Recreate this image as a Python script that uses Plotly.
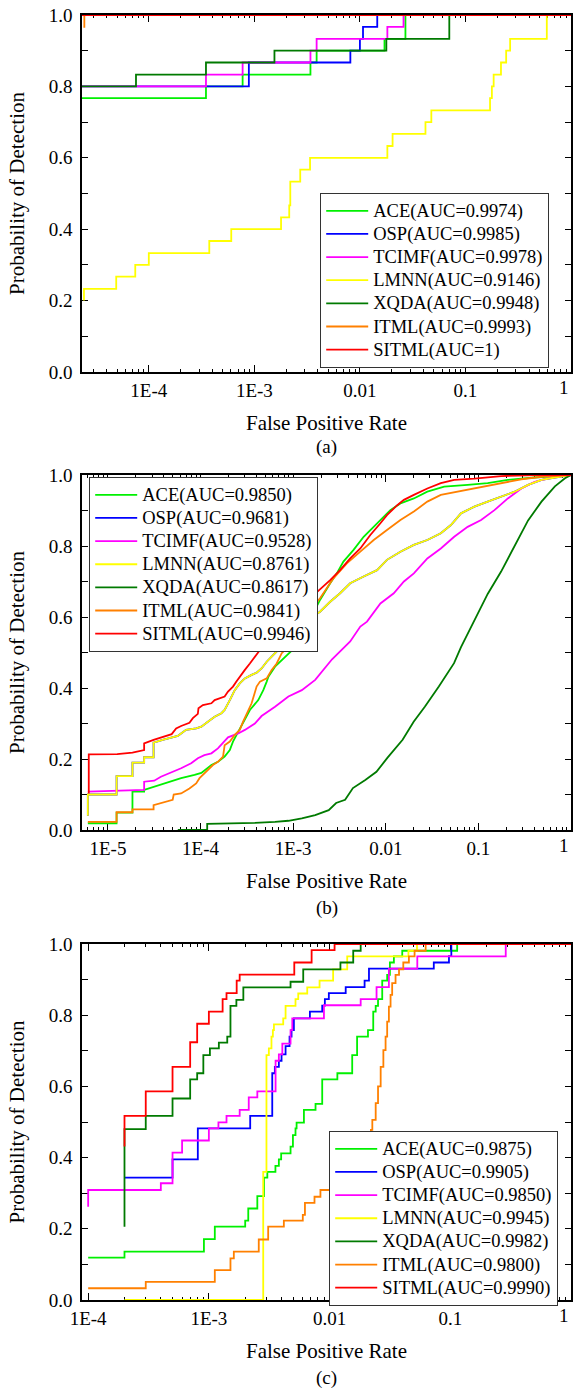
import plotly.graph_objects as go

# ---------------- data: panel (a) ----------------
names_a = ["ACE(AUC=0.9974)", "OSP(AUC=0.9985)", "TCIMF(AUC=0.9978)", "LMNN(AUC=0.9146)",
           "XQDA(AUC=0.9948)", "ITML(AUC=0.9993)", "SITML(AUC=1)"]
ace_a_fpr = [2.2e-5, 3.48e-4, 7.74e-4, 3.40e-3, 3.89e-3, 1.71e-2, 2.7e-2, 1.0]
ace_a_tpr = [0.767, 0.800, 0.833, 0.867, 0.900, 0.933, 1.0, 1.0]
osp_a_fpr = [2.2e-5, 8.87e-4, 8.12e-3, 1.0e-2, 1.07e-2, 1.46e-2, 1.0]
osp_a_tpr = [0.800, 0.867, 0.900, 0.933, 0.967, 1.0, 1.0]
tcimf_a_fpr = [2.2e-5, 3.48e-4, 7.74e-4, 3.40e-3, 3.89e-3, 1.82e-2, 2.59e-2, 1.0]
tcimf_a_tpr = [0.800, 0.833, 0.867, 0.900, 0.933, 0.967, 1.0, 1.0]
lmnn_a_fpr = [2.43e-5, 2.43e-5, 4.91e-5, 7.44e-5, 1.0e-4, 3.74e-4, 6.04e-4, 1.79e-3, 2.14e-3,
              2.19e-3, 2.72e-3, 3.37e-3, 1.82e-2, 2.04e-2, 4.18e-2, 4.75e-2, 0.171, 0.178,
              0.185, 0.217, 0.243, 0.265, 0.59, 1.0]
lmnn_a_tpr = [0.200, 0.233, 0.267, 0.300, 0.333, 0.367, 0.400, 0.433, 0.467, 0.533, 0.567,
              0.600, 0.633, 0.667, 0.700, 0.733, 0.767, 0.800, 0.833, 0.867, 0.900, 0.933,
              1.0, 1.0]
xqda_a_fpr = [2.2e-5, 7.56e-5, 3.48e-4, 1.55e-3, 1.78e-2, 7.03e-2, 1.0]
xqda_a_tpr = [0.800, 0.833, 0.867, 0.900, 0.933, 1.0, 1.0]
itml_a_fpr = [2.4e-5, 2.45e-5, 1.0]
itml_a_tpr = [0.967, 1.0, 1.0]
sitml_a_fpr = [2.2e-5, 1.0]
sitml_a_tpr = [1.0, 1.0]

# ---------------- data: panel (b) ----------------
names_b = ["ACE(AUC=0.9850)", "OSP(AUC=0.9681)", "TCIMF(AUC=0.9528)", "LMNN(AUC=0.8761)",
           "XQDA(AUC=0.8617)", "ITML(AUC=0.9841)", "SITML(AUC=0.9946)"]
ace_b_fpr = [6.07e-6, 1.24e-5, 1.24e-5, 1.84e-5, 1.84e-5, 2.46e-5, 2.46e-5, 3.73e-5, 4.80e-5,
             6.17e-5, 8.61e-5, 1.02e-4, 1.31e-4, 1.54e-4, 1.82e-4, 2.07e-4, 2.24e-4, 2.55e-4,
             3.01e-4, 3.41e-4, 4.20e-4, 4.76e-4, 5.18e-4, 5.40e-4, 6.37e-4, 7.53e-4, 8.89e-4,
             9.84e-4, 1.26e-3, 1.58e-3, 1.95e-3, 2.51e-3, 2.96e-3, 3.49e-3, 4.49e-3, 5.77e-3,
             6.81e-3, 8.75e-3, 1.12e-2, 1.44e-2, 2.01e-2, 2.81e-2, 4.27e-2, 7.66e-2, 0.126,
             0.208, 0.406, 1.0]
ace_b_tpr = [0.019, 0.019, 0.049, 0.049, 0.108, 0.108, 0.113, 0.127, 0.136, 0.146, 0.155,
             0.161, 0.183, 0.192, 0.207, 0.225, 0.249, 0.277, 0.315, 0.338, 0.366, 0.394,
             0.418, 0.432, 0.460, 0.479, 0.498, 0.507, 0.550, 0.600, 0.648, 0.695, 0.723,
             0.756, 0.789, 0.826, 0.845, 0.873, 0.901, 0.920, 0.934, 0.953, 0.967, 0.972,
             0.977, 0.986, 0.993, 1.0]
tcimf_b_fpr = [6.07e-6, 2.46e-5, 2.46e-5, 3.16e-5, 3.73e-5, 4.42e-5, 5.21e-5, 6.17e-5, 7.92e-5,
               9.35e-5, 1.10e-4, 1.31e-4, 1.54e-4, 1.82e-4, 1.98e-4, 2.55e-4, 3.01e-4, 3.86e-4,
               4.56e-4, 6.37e-4, 8.89e-4, 1.24e-3, 1.73e-3, 2.63e-3, 3.35e-3, 4.13e-3, 5.31e-3,
               6.27e-3, 8.75e-3, 1.22e-2, 1.57e-2, 2.01e-2, 2.81e-2, 3.93e-2, 5.48e-2, 7.66e-2,
               0.107, 0.149, 0.208, 0.291, 0.406, 0.670, 1.0]
tcimf_b_tpr = [0.108, 0.113, 0.136, 0.139, 0.150, 0.158, 0.164, 0.174, 0.188, 0.202, 0.211,
               0.216, 0.230, 0.249, 0.261, 0.272, 0.282, 0.300, 0.321, 0.347, 0.376, 0.394,
               0.423, 0.481, 0.507, 0.531, 0.573, 0.587, 0.638, 0.667, 0.700, 0.723, 0.765,
               0.793, 0.826, 0.854, 0.873, 0.901, 0.934, 0.962, 0.981, 0.995, 1.0]
lmnn_b_fpr = [6.07e-6, 6.07e-6, 1.24e-5, 1.24e-5, 1.84e-5, 1.84e-5, 2.46e-5, 2.46e-5, 3.11e-5,
              3.11e-5, 3.90e-5, 4.80e-5, 5.68e-5, 6.17e-5, 6.98e-5, 8.97e-5, 1.02e-4, 1.20e-4,
              1.42e-4, 1.68e-4, 1.82e-4, 2.07e-4, 2.34e-4, 2.65e-4, 3.01e-4, 3.56e-4, 4.03e-4,
              4.56e-4, 5.18e-4, 6.11e-4, 6.93e-4, 1.0e-3, 1.5e-3, 1.95e-3, 2.51e-3, 3.21e-3,
              4.13e-3, 5.77e-3, 8.05e-3, 1.03e-2, 1.44e-2, 2.01e-2, 2.81e-2, 3.93e-2, 5.05e-2,
              6.49e-2, 9.06e-2, 0.126, 0.176, 0.246, 0.344, 0.480, 0.670, 1.0]
lmnn_b_tpr = [0.040, 0.100, 0.100, 0.152, 0.152, 0.190, 0.190, 0.205, 0.205, 0.246, 0.254,
              0.261, 0.265, 0.272, 0.282, 0.286, 0.291, 0.305, 0.319, 0.329, 0.338, 0.366,
              0.394, 0.413, 0.427, 0.437, 0.443, 0.455, 0.474, 0.493, 0.507, 0.550, 0.595,
              0.615, 0.643, 0.667, 0.695, 0.714, 0.732, 0.761, 0.784, 0.803, 0.817, 0.836,
              0.859, 0.892, 0.911, 0.925, 0.939, 0.953, 0.972, 0.986, 0.993, 1.0]
osp_b_fpr = lmnn_b_fpr
osp_b_tpr = lmnn_b_tpr
xqda_b_fpr = [5.68e-5, 1.18e-4, 1.18e-4, 2.15e-4, 3.86e-4, 6.37e-4, 8.89e-4, 1.24e-3, 1.73e-3,
              2.42e-3, 2.91e-3, 3.64e-3, 4.42e-3, 6.01e-3, 7.93e-3, 1.04e-2, 1.52e-2, 2.0e-2,
              2.64e-2, 3.74e-2, 5.46e-2, 6.49e-2, 9.06e-2, 0.126, 0.176, 0.246, 0.344, 0.480,
              0.670, 0.861, 1.0]
xqda_b_tpr = [0.0, 0.0, 0.017, 0.018, 0.020, 0.023, 0.026, 0.033, 0.042, 0.056, 0.076, 0.085,
              0.118, 0.141, 0.164, 0.203, 0.254, 0.305, 0.347, 0.404, 0.470, 0.515, 0.590,
              0.665, 0.728, 0.800, 0.872, 0.925, 0.968, 0.991, 1.0]
itml_b_fpr = [6.07e-6, 1.24e-5, 1.24e-5, 1.84e-5, 1.84e-5, 3.11e-5, 3.11e-5, 3.90e-5, 5.0e-5,
              5.13e-5, 6.17e-5, 7.59e-5, 8.97e-5, 9.75e-5, 1.06e-4, 1.20e-4, 1.36e-4, 1.54e-4,
              1.75e-4, 1.82e-4, 2.07e-4, 2.34e-4, 2.65e-4, 2.88e-4, 3.13e-4, 3.56e-4, 4.03e-4,
              4.38e-4, 5.18e-4, 5.86e-4, 6.64e-4, 7.53e-4, 8.18e-4, 1.2e-3, 1.6e-3, 1.95e-3,
              2.72e-3, 3.80e-3, 5.31e-3, 7.41e-3, 1.03e-2, 1.44e-2, 2.01e-2, 2.81e-2, 3.93e-2,
              5.96e-2, 9.06e-2, 0.176, 0.291, 0.480, 1.0]
itml_b_tpr = [0.023, 0.023, 0.050, 0.050, 0.058, 0.058, 0.070, 0.077, 0.085, 0.100, 0.103,
              0.117, 0.131, 0.146, 0.155, 0.169, 0.183, 0.192, 0.207, 0.239, 0.249, 0.268,
              0.282, 0.305, 0.324, 0.357, 0.404, 0.418, 0.427, 0.451, 0.469, 0.498, 0.507,
              0.570, 0.625, 0.653, 0.709, 0.751, 0.784, 0.817, 0.845, 0.873, 0.897, 0.925,
              0.944, 0.953, 0.962, 0.977, 0.988, 0.995, 1.0]
sitml_b_fpr = [6.21e-6, 6.21e-6, 1.26e-5, 1.84e-5, 2.46e-5, 2.46e-5, 3.11e-5, 3.90e-5, 4.88e-5,
               5.45e-5, 6.17e-5, 7.59e-5, 8.26e-5, 9.35e-5, 9.50e-5, 1.06e-4, 1.31e-4, 1.42e-4,
               1.82e-4, 1.98e-4, 2.24e-4, 2.44e-4, 2.65e-4, 3.01e-4, 3.41e-4, 3.86e-4, 4.38e-4,
               6.31e-4, 1.0e-3, 1.41e-3, 1.95e-3, 2.51e-3, 3.21e-3, 4.13e-3, 5.31e-3, 6.81e-3,
               8.75e-3, 1.03e-2, 1.33e-2, 1.57e-2, 2.01e-2, 2.81e-2, 3.93e-2, 5.48e-2, 9.06e-2,
               0.176, 0.406, 1.0]
sitml_b_tpr = [0.103, 0.213, 0.214, 0.218, 0.225, 0.244, 0.254, 0.261, 0.270, 0.286, 0.293,
               0.302, 0.315, 0.327, 0.343, 0.352, 0.357, 0.366, 0.376, 0.390, 0.404, 0.418,
               0.432, 0.451, 0.469, 0.488, 0.507, 0.550, 0.600, 0.645, 0.678, 0.704, 0.732,
               0.765, 0.793, 0.831, 0.864, 0.887, 0.915, 0.930, 0.944, 0.962, 0.977, 0.986,
               0.990, 0.997, 1.0, 1.0]

# ---------------- data: panel (c) ----------------
names_c = ["ACE(AUC=0.9875)", "OSP(AUC=0.9905)", "TCIMF(AUC=0.9850)", "LMNN(AUC=0.9945)",
           "XQDA(AUC=0.9982)", "ITML(AUC=0.9800)", "SITML(AUC=0.9990)"]
ace_c_fpr = [1.0e-4, 2.0e-4, 9.1e-4, 1.12e-3, 2.0e-3, 2.12e-3, 2.52e-3, 2.86e-3, 3.05e-3,
             3.56e-3, 3.8e-3, 3.97e-3, 4.75e-3, 4.97e-3, 5.22e-3, 5.33e-3, 6.13e-3, 7.65e-3,
             8.69e-3, 1.16e-2, 1.54e-2, 1.69e-2, 2.08e-2, 2.30e-2, 2.41e-2, 2.52e-2, 2.73e-2,
             3.0e-2, 3.16e-2, 3.41e-2, 4.0e-2, 0.114, 1.0]
ace_c_tpr = [0.119, 0.136, 0.171, 0.206, 0.223, 0.257, 0.292, 0.344, 0.360, 0.377, 0.395,
             0.412, 0.431, 0.463, 0.482, 0.498, 0.534, 0.551, 0.620, 0.637, 0.688, 0.740,
             0.758, 0.810, 0.826, 0.845, 0.897, 0.913, 0.948, 0.965, 0.981, 1.0, 1.0]
osp_c_fpr = [2.0e-4, 5.0e-4, 8.1e-4, 2.2e-3, 3.35e-3, 3.52e-3, 3.8e-3, 4.0e-3, 4.32e-3,
             4.66e-3, 4.84e-3, 5.06e-3, 6.87e-3, 8.69e-3, 9.14e-3, 9.86e-3, 1.36e-2, 1.95e-2,
             2.12e-2, 7.3e-2, 9.75e-2, 0.102, 1.0]
osp_c_tpr = [0.344, 0.395, 0.482, 0.517, 0.637, 0.655, 0.672, 0.690, 0.713, 0.740, 0.758,
             0.791, 0.810, 0.827, 0.845, 0.862, 0.879, 0.897, 0.931, 0.948, 0.966, 1.0, 1.0]
tcimf_c_fpr = [1.0e-4, 1.0e-4, 4.0e-4, 5.0e-4, 6.0e-4, 1.0e-3, 1.2e-3, 1.4e-3, 1.8e-3,
               2.14e-3, 2.52e-3, 3.57e-3, 3.8e-3, 4.06e-3, 4.75e-3, 4.91e-3, 8.98e-3, 1.81e-2,
               2.45e-2, 3.1e-2, 5.33e-2, 0.288, 1.0]
tcimf_c_tpr = [0.262, 0.309, 0.328, 0.414, 0.448, 0.482, 0.499, 0.517, 0.534, 0.569, 0.586,
               0.672, 0.690, 0.720, 0.758, 0.791, 0.828, 0.845, 0.879, 0.931, 0.965, 1.0, 1.0]
lmnn_c_fpr = [2.0e-4, 2.82e-3, 3.0e-3, 3.14e-3, 3.3e-3, 3.39e-3, 3.46e-3, 4.13e-3, 4.32e-3,
              5.22e-3, 5.5e-3, 6.53e-3, 8.26e-3, 1.07e-2, 1.40e-2, 4.5e-2, 5.3e-2, 1.0]
lmnn_c_tpr = [0.0, 0.360, 0.688, 0.707, 0.740, 0.758, 0.774, 0.791, 0.826, 0.845, 0.861,
              0.878, 0.897, 0.929, 0.965, 0.981, 1.0, 1.0]
xqda_c_fpr = [2.0e-4, 2.0e-4, 3.0e-4, 5.0e-4, 7.0e-4, 8.0e-4, 9.0e-4, 1.02e-3, 1.21e-3,
              1.42e-3, 1.51e-3, 1.69e-3, 1.93e-3, 4.75e-3, 6.05e-3, 1.23e-2, 1.57e-2, 1.81e-2, 1.0]
xqda_c_tpr = [0.206, 0.480, 0.517, 0.566, 0.620, 0.637, 0.688, 0.707, 0.723, 0.740, 0.826,
              0.843, 0.878, 0.894, 0.929, 0.948, 0.981, 1.0, 1.0]
itml_c_fpr = [1.0e-4, 3.0e-4, 1.12e-3, 1.51e-3, 1.61e-3, 2.59e-3, 3.1e-3, 4.18e-3, 6.0e-3,
              6.25e-3, 7.5e-3, 8.4e-3, 1.3e-2, 1.7e-2, 2.0e-2, 2.2e-2, 2.26e-2, 2.41e-2, 2.52e-2,
              2.65e-2, 2.79e-2, 2.91e-2, 3.0e-2, 3.1e-2, 3.2e-2, 3.3e-2, 3.52e-2, 3.76e-2,
              4.08e-2, 4.54e-2, 5.06e-2, 6.25e-2, 1.0]
itml_c_tpr = [0.033, 0.051, 0.084, 0.117, 0.136, 0.170, 0.206, 0.223, 0.239, 0.273, 0.290,
              0.309, 0.330, 0.390, 0.440, 0.478, 0.506, 0.553, 0.600, 0.655, 0.702, 0.740,
              0.782, 0.824, 0.857, 0.890, 0.913, 0.929, 0.948, 0.965, 0.981, 1.0, 1.0]
sitml_c_fpr = [2.0e-4, 2.0e-4, 3.0e-4, 5.0e-4, 7.0e-4, 8.0e-4, 1.0e-3, 1.3e-3, 1.4e-3, 1.7e-3,
               1.8e-3, 5.1e-3, 7.1e-3, 1.1e-2, 1.0]
sitml_c_tpr = [0.431, 0.517, 0.586, 0.655, 0.724, 0.776, 0.810, 0.845, 0.862, 0.897, 0.914,
               0.948, 0.983, 1.0, 1.0]

# ---------------- axis tick labels ----------------
xtick_vals_a = [1e-4, 1e-3, 1e-2, 1e-1]
xtick_text_a = ["1E-4", "1E-3", "0.01", "0.1"]
xtick_vals_b = [1e-5, 1e-4, 1e-3, 1e-2, 1e-1]
xtick_text_b = ["1E-5", "1E-4", "1E-3", "0.01", "0.1"]
xtick_vals_c = [1e-4, 1e-3, 1e-2, 1e-1]
xtick_text_c = ["1E-4", "1E-3", "0.01", "0.1"]
xtick_last_text = "1"  # label of the right-most tick (FPR = 1), kept inside the page
ytick_vals = [0, 0.2, 0.4, 0.6, 0.8, 1.0]
ytick_text = ["0.0", "0.2", "0.4", "0.6", "0.8", "1.0"]
xrange_a = [-4.633, 0]
xrange_b = [-5.28, 0]
xrange_c = [-4.051, 0]
captions = ["(a)", "(b)", "(c)"]

colors = ["#00F000", "#0000FF", "#FF00FF", "#FFFF00", "#007A00", "#FF8000", "#FF0000"]
FONT = "Liberation Serif, Times New Roman, Times, serif"

panels = [
    (names_a, [(ace_a_fpr, ace_a_tpr), (osp_a_fpr, osp_a_tpr), (tcimf_a_fpr, tcimf_a_tpr),
               (lmnn_a_fpr, lmnn_a_tpr), (xqda_a_fpr, xqda_a_tpr), (itml_a_fpr, itml_a_tpr),
               (sitml_a_fpr, sitml_a_tpr)], "hv"),
    (names_b, [(ace_b_fpr, ace_b_tpr), (osp_b_fpr, osp_b_tpr), (tcimf_b_fpr, tcimf_b_tpr),
               (lmnn_b_fpr, lmnn_b_tpr), (xqda_b_fpr, xqda_b_tpr), (itml_b_fpr, itml_b_tpr),
               (sitml_b_fpr, sitml_b_tpr)], "linear"),
    (names_c, [(ace_c_fpr, ace_c_tpr), (osp_c_fpr, osp_c_tpr), (tcimf_c_fpr, tcimf_c_tpr),
               (lmnn_c_fpr, lmnn_c_tpr), (xqda_c_fpr, xqda_c_tpr), (itml_c_fpr, itml_c_tpr),
               (sitml_c_fpr, sitml_c_tpr)], "hv"),
]

fig = go.Figure()
for i, (names, series, shape) in enumerate(panels):
    ax = "" if i == 0 else str(i + 1)
    leg = "legend" if i == 0 else "legend" + str(i + 1)
    for (fpr, tpr), name, col in zip(series, names, colors):
        fig.add_trace(go.Scatter(
            x=fpr, y=tpr, mode="lines", line=dict(color=col, width=1.8, shape=shape),
            name="<span style='font-size:18.5px'>" + name + "</span>",
            xaxis="x" + ax, yaxis="y" + ax, legend=leg, hoverinfo="skip"))

# layout
H_TOP = 15.0
H_BOT = 88.0
PH = 1388 - H_TOP - H_BOT


def yfrac(py):
    return (1388 - H_BOT - py) / PH


domains = [[yfrac(372), yfrac(15)], [yfrac(830), yfrac(475)], [yfrac(1300), yfrac(944)]]
xticks = [(xtick_vals_a, xtick_text_a, xrange_a), (xtick_vals_b, xtick_text_b, xrange_b),
          (xtick_vals_c, xtick_text_c, xrange_c)]

layout = dict(
    width=573, height=1388, autosize=False,
    margin=dict(l=82, r=2, t=H_TOP, b=H_BOT, pad=0, autoexpand=False),
    paper_bgcolor="white", plot_bgcolor="white",
    font=dict(family=FONT, color="black", size=19),
    showlegend=True,
)
annotations = []
for i in range(3):
    ax = "" if i == 0 else str(i + 1)
    tv, tt, rng = xticks[i]
    layout["xaxis" + ax] = dict(
        type="log", range=rng, domain=[0, 1], anchor="y" + ax,
        tickvals=tv, ticktext=tt,
        showline=True, linecolor="black", linewidth=1.6, mirror="ticks",
        ticks="inside", ticklen=7, tickwidth=1.3, tickcolor="black",
        minor=dict(dtick="D1", ticks="inside", ticklen=3.5, tickwidth=1.1, tickcolor="black", showgrid=False),
        showgrid=False, zeroline=False, layer="below traces", automargin=False,
        tickfont=dict(family=FONT, size=19),
        title=dict(text="False Positive Rate", font=dict(family=FONT, size=21), standoff=16),
    )
    layout["yaxis" + ax] = dict(
        range=[0, 1.0], domain=domains[i], anchor="x" + ax,
        tickvals=ytick_vals, ticktext=ytick_text, ticklabeloverflow="allow",
        showline=True, linecolor="black", linewidth=1.6, mirror="ticks",
        ticks="inside", ticklen=6, tickwidth=1.3, tickcolor="black", ticklabelstandoff=4,
        minor=dict(dtick=0.1, ticks="inside", ticklen=6, tickwidth=1.1, tickcolor="black", showgrid=False),
        showgrid=False, zeroline=False, layer="below traces", automargin=False,
        tickfont=dict(family=FONT, size=19),
        title=dict(text="Probability of Detection", font=dict(family=FONT, size=21), standoff=18),
    )
    # label of the FPR = 1 tick, right-aligned to the axis end
    annotations.append(dict(text=xtick_last_text, x=rng[1], y=0, xref="x" + ax, yref="y" + ax,
                            xanchor="right", yanchor="top", yshift=-3, showarrow=False,
                            font=dict(family=FONT, size=19)))

leg_common = dict(xanchor="left", yanchor="top", xref="paper", yref="paper",
                  bgcolor="white", bordercolor="#333333", borderwidth=1.2,
                  font=dict(family=FONT, size=15.5, color="black"), itemwidth=42,
                  tracegroupgap=0)
layout["legend"] = dict(leg_common, x=(320 - 82) / 489, y=yfrac(193))
layout["legend2"] = dict(leg_common, x=(89 - 82) / 489, y=yfrac(477))
layout["legend3"] = dict(leg_common, x=(329 - 82) / 489, y=yfrac(1131))

for t, py in zip(captions, [447, 908, 1378]):
    annotations.append(dict(text=t, x=0.5, y=yfrac(py), xref="paper", yref="paper", showarrow=False,
                            xanchor="center", yanchor="middle", font=dict(family=FONT, size=19)))
layout["annotations"] = annotations

fig.update_layout(layout)
fig.write_html("out.html", config={"displayModeBar": False, "responsive": False},
               post_script="document.body.style.margin='0px';document.body.style.padding='0px';")
